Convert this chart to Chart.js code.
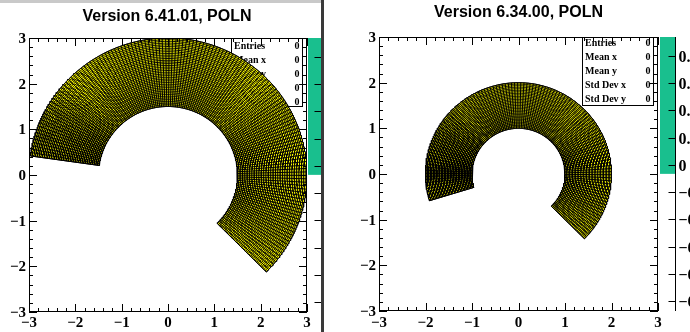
<!DOCTYPE html>
<html><head><meta charset="utf-8">
<script src="https://cdn.jsdelivr.net/npm/chart.js@4/dist/chart.umd.min.js"></script>
<style>
html,body{margin:0;padding:0;background:#fff;width:690px;height:332px;overflow:hidden;}
#topbar{position:absolute;left:0;top:0;width:321px;height:3px;background:#c9c9c9;}
#sep{position:absolute;left:321px;top:0;width:3px;height:332px;background:#3a3a3a;}
#w1{position:absolute;left:0;top:0;width:321px;height:332px;}
#w2{position:absolute;left:324px;top:0;width:366px;height:332px;}
</style></head>
<body>
<div id="w1"><canvas id="c1" width="321" height="332"></canvas></div>
<div id="w2"><canvas id="c2" width="366" height="332"></canvas></div>
<div id="topbar"></div>
<div id="sep"></div>
<script>
// ---------- data ----------
const panelTitles = ["Version 6.41.01, POLN", "Version 6.34.00, POLN"];
const axisTickValues = [-3, -2, -1, 0, 1, 2, 3];
const axisTickLabels = ["\u22123", "\u22122", "\u22121", "0", "1", "2", "3"];
const rInner = [1.5, 1.0];
const rOuter = [3.0, 2.0];
const phiStartDeg = [-45, -45];
const phiEndDeg = [172, 197];
const nRadialBins = [40, 30];
const nPhiBins = [150, 125];
const statNames = ["Entries", "Mean x", "Mean y", "Std Dev x", "Std Dev y"];
const statValues = ["0", "0", "0", "0", "0"];
const paletteTickValues = [0.4, 0.3, 0.2, 0.1, 0, -0.1, -0.2, -0.3, -0.4, -0.5];
const paletteTickLabels = ["0.4", "0.3", "0.2", "0.1", "0", "\u22120.1", "\u22120.2", "\u22120.3", "\u22120.4", "\u22120.5"];
const paletteMin = -0.537, paletteMax = 0.47, paletteFillFrom = -0.033;

// ---------- helpers ----------
function arcPts(r, a0, a1, stepDeg) {
  const n = Math.max(2, Math.ceil(Math.abs(a1 - a0) / stepDeg));
  const pts = [];
  for (let k = 0; k <= n; k++) {
    const a = (a0 + (a1 - a0) * k / n) * Math.PI / 180;
    pts.push({x: r * Math.cos(a), y: r * Math.sin(a)});
  }
  return pts;
}
function buildDatasets(i) {
  const a0 = phiStartDeg[i], a1 = phiEndDeg[i], ri = rInner[i], ro = rOuter[i];
  const outline = arcPts(ro, a0, a1, 0.5).concat(arcPts(ri, a1, a0, 0.5));
  outline.push(outline[0]);
  const arcs = [];
  for (let k = 0; k <= nRadialBins[i]; k++) {
    const r = ri + (ro - ri) * k / nRadialBins[i];
    arcs.push(...arcPts(r, a0, a1, 0.5));
    arcs.push({x: null, y: null});
  }
  const spokes = [];
  for (let j = 0; j <= nPhiBins[i]; j++) {
    const a = (a0 + (a1 - a0) * j / nPhiBins[i]) * Math.PI / 180;
    spokes.push({x: ri * Math.cos(a), y: ri * Math.sin(a)});
    spokes.push({x: ro * Math.cos(a), y: ro * Math.sin(a)});
    spokes.push({x: null, y: null});
  }
  const common = {showLine: true, pointRadius: 0, pointHoverRadius: 0, fill: false, spanGaps: false, tension: 0};
  return [
    Object.assign({}, common, {label: 'cells', data: outline, borderColor: '#000', borderWidth: 1, order: 3, _fillShape: '#ffff00'}),
    Object.assign({}, common, {label: 'r edges', data: arcs, borderColor: '#000', borderWidth: 1, order: 2}),
    Object.assign({}, common, {label: 'phi edges', data: spokes, borderColor: '#000', borderWidth: 1, order: 1})
  ];
}

const shapeFill = {
  id: 'shapeFill',
  beforeDatasetDraw(chart, args) {
    const ds = chart.data.datasets[args.index];
    if (!ds._fillShape) return;
    const a = chart.chartArea, ctx = chart.ctx;
    ctx.save();
    ctx.beginPath(); ctx.rect(a.left, a.top, a.right - a.left, a.bottom - a.top); ctx.clip();
    ctx.beginPath();
    let started = false;
    args.meta.data.forEach(p => {
      if (isNaN(p.x) || isNaN(p.y)) return;
      if (!started) { ctx.moveTo(p.x, p.y); started = true; } else ctx.lineTo(p.x, p.y);
    });
    ctx.closePath();
    ctx.fillStyle = ds._fillShape;
    ctx.fill();
    ctx.restore();
  }
};

function makeDecor(i, L) {
  function drawStats(ctx) {
    ctx.save();
    ctx.fillStyle = '#fff';
    ctx.fillRect(L.box[0], L.box[1], L.box[2] - L.box[0], L.box[3] - L.box[1]);
    ctx.strokeStyle = '#000'; ctx.lineWidth = 1;
    ctx.strokeRect(L.box[0] + 0.5, L.box[1] + 0.5, L.box[2] - L.box[0] - 1, L.box[3] - L.box[1] - 1);
    ctx.font = 'bold 10px "Liberation Serif"';
    ctx.fillStyle = '#000';
    ctx.textBaseline = 'middle';
    statNames.forEach((n, k) => {
      const y = L.box[1] + L.statOff + L.statStep * k;
      ctx.textAlign = 'left'; ctx.fillText(n, L.box[0] + 3, y);
      ctx.textAlign = 'center'; ctx.fillText(statValues[k], L.valX, y);
    });
    ctx.restore();
  }
  return {
    id: 'decor' + i,
    beforeDatasetsDraw(chart) {
      if (L.statsBelow) drawStats(chart.ctx);
    },
    afterDatasetsDraw(chart) {
      const ctx = chart.ctx, a = chart.chartArea;
      const xs = chart.scales.x, ys = chart.scales.y, zs = chart.scales.z;
      if (!L.statsBelow) drawStats(ctx);
      ctx.save();
      ctx.strokeStyle = '#000'; ctx.lineWidth = 1;
      ctx.strokeRect(Math.round(a.left) + 0.5, Math.round(a.top) + 0.5, Math.round(a.right - a.left) - 1, Math.round(a.bottom - a.top) - 1);
      ctx.beginPath();
      for (let k = 0; k <= 30; k++) {
        const v = -3 + k * 0.2;
        const major = k % 5 === 0;
        const len = major ? 8 : 4;
        const px = Math.round(xs.getPixelForValue(v)) + 0.5;
        ctx.moveTo(px, a.bottom); ctx.lineTo(px, a.bottom - len);
        ctx.moveTo(px, a.top); ctx.lineTo(px, a.top + len);
        const py = Math.round(ys.getPixelForValue(v)) + 0.5;
        ctx.moveTo(a.left, py); ctx.lineTo(a.left + len, py);
        ctx.moveTo(a.right, py); ctx.lineTo(a.right - len, py);
      }
      ctx.stroke();
      ctx.fillStyle = '#000';
      ctx.font = 'bold 15px "Liberation Serif"';
      ctx.textBaseline = 'alphabetic';
      axisTickValues.forEach((v, k) => {
        ctx.textAlign = 'center';
        ctx.fillText(axisTickLabels[k], xs.getPixelForValue(v), 327);
        ctx.textAlign = 'right';
        ctx.fillText(axisTickLabels[k], a.left - 3, ys.getPixelForValue(v) + 5);
      });
      ctx.font = 'bold 16px "Liberation Sans"';
      ctx.textAlign = 'center';
      ctx.fillText(panelTitles[i], (a.left + a.right) / 2 + L.titleDx, L.titleY);
      const pTop = zs.getPixelForValue(paletteMax), pFill = zs.getPixelForValue(paletteFillFrom);
      ctx.fillStyle = '#19bf8e';
      ctx.fillRect(L.pal[0], pTop, L.pal[1] - L.pal[0], pFill - pTop);
      ctx.beginPath();
      const axX = L.pal[1] + 0.5;
      ctx.moveTo(axX, zs.getPixelForValue(paletteMax)); ctx.lineTo(axX, zs.getPixelForValue(paletteMin));
      paletteTickValues.forEach(v => {
        const py = Math.round(zs.getPixelForValue(v)) + 0.5;
        ctx.moveTo(axX, py); ctx.lineTo(axX - 7, py);
      });
      ctx.stroke();
      ctx.fillStyle = '#000';
      ctx.font = 'bold 16px "Liberation Serif"';
      ctx.textAlign = 'left';
      paletteTickValues.forEach((v, k) => {
        ctx.fillText(paletteTickLabels[k], axX + 3, zs.getPixelForValue(v) + 6);
      });
      ctx.restore();
    }
  };
}

function makeChart(i, canvasId, L) {
  return new Chart(document.getElementById(canvasId), {
    type: 'scatter',
    data: {datasets: buildDatasets(i)},
    options: {
      responsive: false, animation: false, events: [],
      layout: {padding: L.padding},
      plugins: {legend: {display: false}, tooltip: {enabled: false}, title: {display: false}},
      scales: {
        x: {type: 'linear', min: -3, max: 3, display: false},
        y: {type: 'linear', min: -3, max: 3, display: false},
        z: {type: 'linear', min: paletteMin, max: paletteMax, display: false, position: 'right'}
      }
    },
    plugins: [shapeFill, makeDecor(i, L)]
  });
}

makeChart(0, 'c1', {
  padding: {left: 29, right: 14, top: 38, bottom: 20},
  box: [231, 38, 303, 107], statOff: 8, statStep: 14.2, valX: 297, statsBelow: true,
  titleDx: -1, titleY: 20.5,
  pal: [308, 321]
});
makeChart(1, 'c2', {
  padding: {left: 55, right: 32, top: 37, bottom: 21},
  box: [258, 37, 330, 106], statOff: 6.5, statStep: 14, valX: 324, statsBelow: false,
  titleDx: 0, titleY: 17,
  pal: [336, 351]
});
</script>
</body></html>
